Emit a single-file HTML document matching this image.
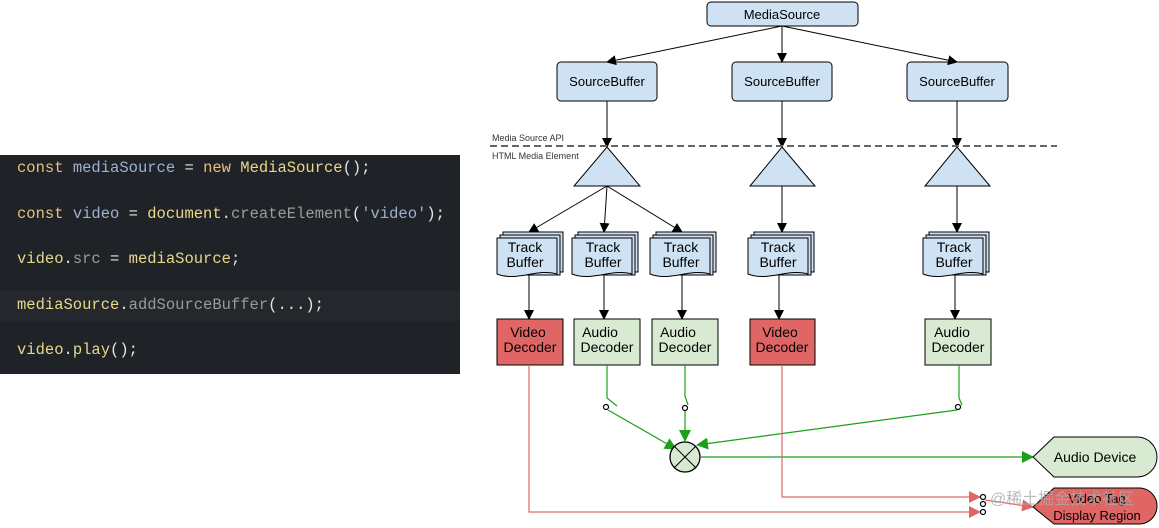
<!DOCTYPE html>
<html><head><meta charset="utf-8"><style>
body{margin:0;width:1159px;height:528px;background:#fff;overflow:hidden;position:relative;font-family:"Liberation Sans",sans-serif}
.code{position:absolute;left:0;top:155px;width:460px;height:219px;background:#1f2328}
.hl{position:absolute;left:0;top:136px;width:460px;height:30px;background:#24282d}
.ln{position:absolute;left:17px;font-family:"Liberation Mono","DejaVu Sans Mono",monospace;font-size:15.5px;color:#e6e6e6;white-space:pre}
.k{color:#e5c07b}.v{color:#9fb1cf}.m{color:#9a9a9a}.y{color:#e8d88a}
</style></head><body>
<div class="code"><div class="hl"></div>
<div class="ln" style="top:4px"><span class="k">const</span> <span class="v">mediaSource</span> = <span class="k">new</span> <span class="y">MediaSource</span>();</div>
<div class="ln" style="top:50px"><span class="k">const</span> <span class="v">video</span> = <span class="y">document</span>.<span class="m">createElement</span>(<span class="v">'video'</span>);</div>
<div class="ln" style="top:95px"><span class="y">video</span>.<span class="m">src</span> = <span class="y">mediaSource</span>;</div>
<div class="ln" style="top:141px"><span class="y">mediaSource</span>.<span class="m">addSourceBuffer</span>(...);</div>
<div class="ln" style="top:186px"><span class="y">video</span>.<span class="y">play</span>();</div>
</div>
<svg width="1159" height="528" style="position:absolute;left:0;top:0" font-family="Liberation Sans, sans-serif">
<defs>
<marker id="ab" markerWidth="10" markerHeight="10" refX="9" refY="5" orient="auto" markerUnits="userSpaceOnUse"><path d="M0,0L10,5L0,10Z" fill="#000"/></marker>
<marker id="ag" markerWidth="12" markerHeight="12" refX="11" refY="6" orient="auto" markerUnits="userSpaceOnUse"><path d="M0,0L12,6L0,12Z" fill="#1aa01a"/></marker>
<marker id="ar" markerWidth="12" markerHeight="12" refX="11" refY="6" orient="auto" markerUnits="userSpaceOnUse"><path d="M0,0L12,6L0,12Z" fill="#e06666"/></marker>
</defs>
<g stroke="#000" fill="#cfe2f3">
<rect x="707" y="2" width="151" height="24" rx="4"/>
<rect x="557" y="62" width="100" height="39" rx="4"/>
<rect x="732" y="62" width="100" height="39" rx="4"/>
<rect x="907" y="62" width="101" height="39" rx="4"/>
<path d="M607,147L640,186L574,186Z"/><path d="M782,147L815,186L750,186Z"/><path d="M957,147L990,186L925,186Z"/>
</g>
<g font-size="13" text-anchor="middle" fill="#000">
<text x="782" y="19">MediaSource</text>
<text x="607" y="86">SourceBuffer</text><text x="782" y="86">SourceBuffer</text><text x="957" y="86">SourceBuffer</text>
</g>
<g stroke="#000" fill="none" marker-end="url(#ab)">
<path d="M782,26L607,62"/><path d="M782,26L782,62"/><path d="M782,26L957,62"/>
<path d="M607,101L607,147"/><path d="M782,101L782,147"/><path d="M957,101L957,147"/>
<path d="M607,186L529,232"/><path d="M607,186L604,232"/><path d="M607,186L682,232"/>
<path d="M782,186L782,232"/><path d="M957,186L957,232"/>
<path d="M529,275L529,319"/><path d="M604,275L604,319"/><path d="M682,275L682,319"/><path d="M779,275L779,319"/><path d="M955,275L955,319"/>
</g>
<line x1="490" y1="146" x2="1057" y2="146" stroke="#666" stroke-width="2" stroke-dasharray="7,4"/>
<text x="492" y="141" font-size="9" fill="#333">Media Source API</text>
<text x="492" y="159" font-size="9" fill="#333">HTML Media Element</text>
<g id="tbs">
</g>
<g stroke="#000" fill="#cfe2f3">
<g transform="translate(497,232)"><path d="M6,0h60v40h-60Z"/><path d="M3,3h60v40h-60Z"/><path d="M0,6h60v36c-20,-6 -40,8 -60,0Z"/></g>
<g transform="translate(572,232)"><path d="M6,0h60v40h-60Z"/><path d="M3,3h60v40h-60Z"/><path d="M0,6h60v36c-20,-6 -40,8 -60,0Z"/></g>
<g transform="translate(650,232)"><path d="M6,0h60v40h-60Z"/><path d="M3,3h60v40h-60Z"/><path d="M0,6h60v36c-20,-6 -40,8 -60,0Z"/></g>
<g transform="translate(748,232)"><path d="M6,0h60v40h-60Z"/><path d="M3,3h60v40h-60Z"/><path d="M0,6h60v36c-20,-6 -40,8 -60,0Z"/></g>
<g transform="translate(923,232)"><path d="M6,0h60v40h-60Z"/><path d="M3,3h60v40h-60Z"/><path d="M0,6h60v36c-20,-6 -40,8 -60,0Z"/></g>
</g>
<g font-size="14" text-anchor="middle" fill="#000">
<text x="525" y="252">Track</text><text x="525" y="267">Buffer</text>
<text x="603" y="252">Track</text><text x="603" y="267">Buffer</text>
<text x="681" y="252">Track</text><text x="681" y="267">Buffer</text>
<text x="778" y="252">Track</text><text x="778" y="267">Buffer</text>
<text x="954" y="252">Track</text><text x="954" y="267">Buffer</text>
</g>
<g stroke="#000">
<rect x="497" y="319" width="66" height="46" fill="#e06666"/>
<rect x="574" y="319" width="66" height="46" fill="#d9ead3"/>
<rect x="652" y="319" width="66" height="46" fill="#d9ead3"/>
<rect x="750" y="319" width="65" height="46" fill="#e06666"/>
<rect x="925" y="319" width="66" height="46" fill="#d9ead3"/>
</g>
<g font-size="14" text-anchor="middle" fill="#000">
<text x="528" y="337">Video</text><text x="530" y="352">Decoder</text>
<text x="600" y="337">Audio</text><text x="607" y="352">Decoder</text>
<text x="678" y="337">Audio</text><text x="685" y="352">Decoder</text>
<text x="780" y="337">Video</text><text x="782" y="352">Decoder</text>
<text x="952" y="337">Audio</text><text x="958" y="352">Decoder</text>
</g>
<g stroke="#1aa01a" fill="none" stroke-width="1.2">
<path d="M607,365V398L617,406"/><path d="M685,365V396L688,405"/><path d="M959,365V398L962,405"/>
<path d="M608,410L676,449" marker-end="url(#ag)"/>
<path d="M685,411V441" marker-end="url(#ag)"/>
<path d="M957,410L697,445" marker-end="url(#ag)"/>
<path d="M701,457H1033" marker-end="url(#ag)"/>
</g>
<g stroke="#000" fill="#fff" stroke-width="1.2">
<circle cx="606" cy="407" r="2.5"/><circle cx="685" cy="408" r="2.5"/><circle cx="958" cy="407" r="2.5"/>
</g>
<g stroke="#e06666" fill="none" stroke-width="1.2">
<path d="M529,365V512H980" marker-end="url(#ar)"/>
<path d="M782,365V497H980" marker-end="url(#ar)"/>
<path d="M985,500L1033,507" marker-end="url(#ar)"/>
</g>
<g stroke="#000" fill="#fff" stroke-width="1.2">
<circle cx="983" cy="497" r="2.5"/><circle cx="983" cy="504" r="2.5"/><circle cx="983" cy="512" r="2.5"/>
</g>
<circle cx="685" cy="457" r="15" fill="#d9ead3" stroke="#000" stroke-width="1.3"/>
<path d="M674,446L696,468M696,446L674,468" stroke="#000"/>
<path d="M1033,457L1054,437H1137a20,20 0 0 1 0,40H1054Z" fill="#d9ead3" stroke="#000"/>
<text x="1095" y="462" font-size="14" text-anchor="middle">Audio Device</text>
<path d="M1033,507L1054,488H1139a18,18 0 0 1 0,36H1054Z" fill="#e06666" stroke="#000"/>
<text x="1097" y="503" font-size="13" text-anchor="middle">Video Tag</text>
<text x="1097" y="520" font-size="13" text-anchor="middle">Display Region</text>
<text x="990" y="504" font-size="16" fill="#aaa" fill-opacity="0.8" font-family="Liberation Sans, Noto Sans CJK SC, sans-serif">@稀土掘金技术社区</text>
</svg>
</body></html>
